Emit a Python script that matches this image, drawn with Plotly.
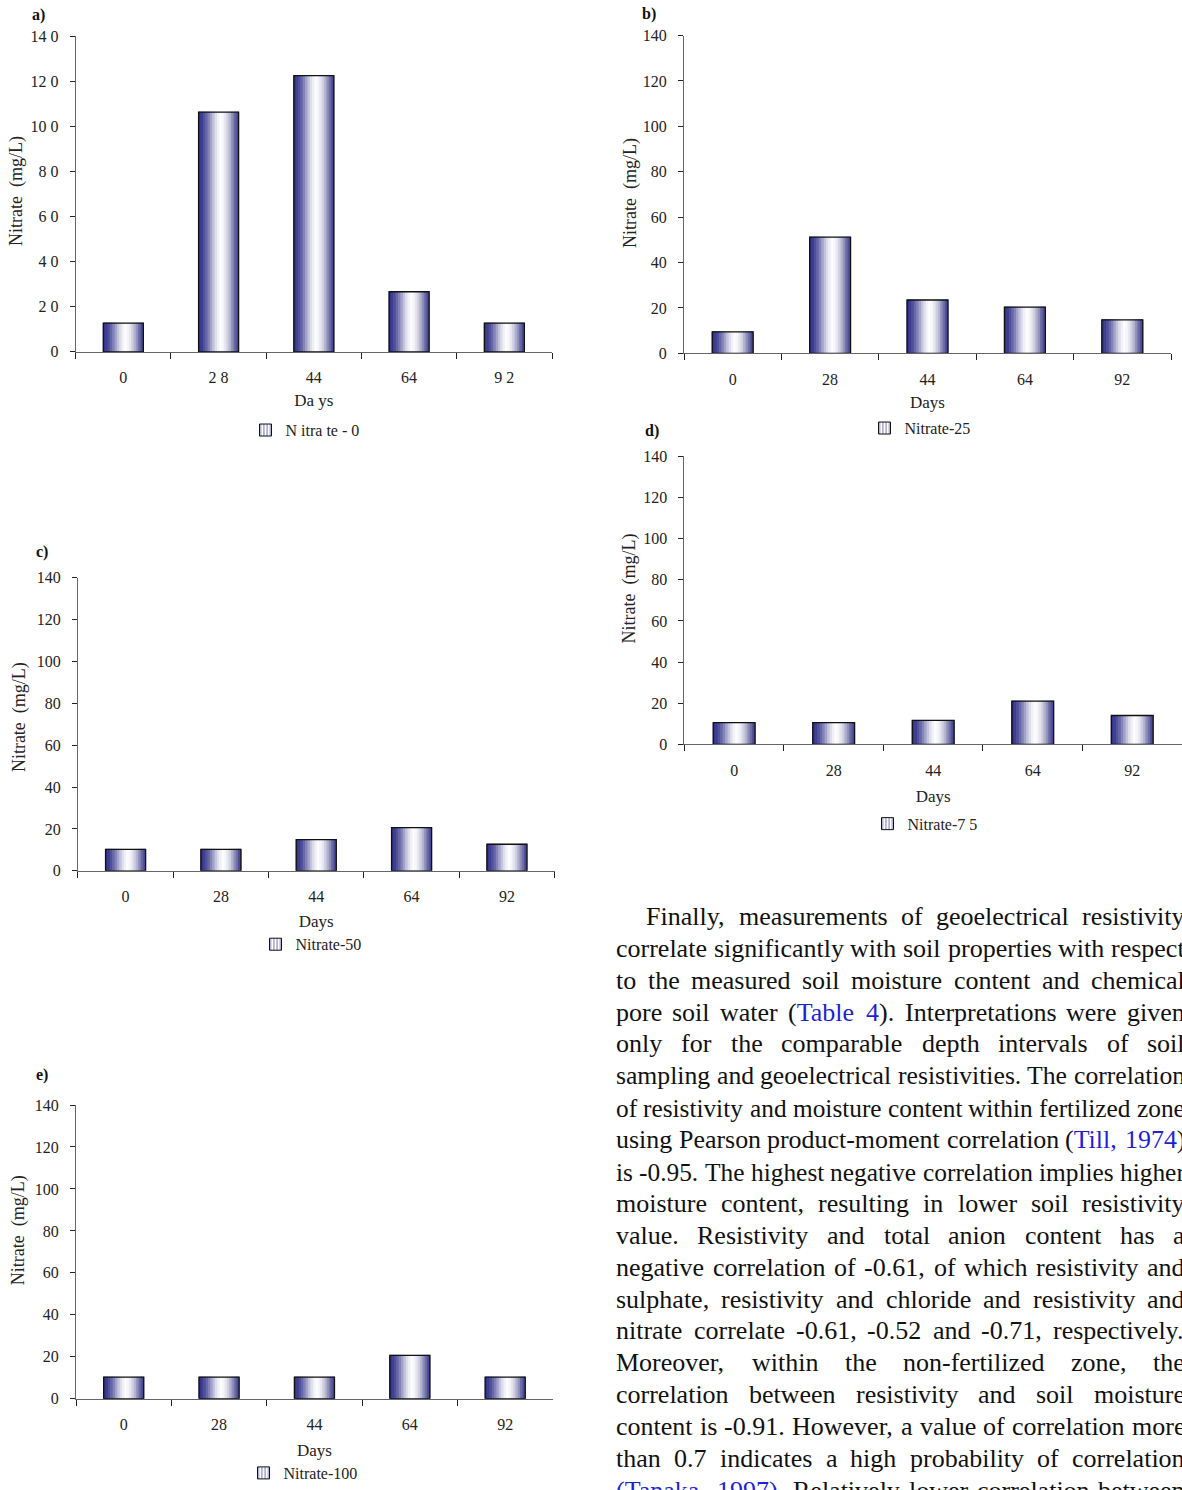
import plotly.graph_objects as go

W, H = 1182, 1490

# ---------------- data ----------------
days = ["0", "28", "44", "64", "92"]
nitrate_0 = [12.8, 106.4, 122.6, 26.7, 12.8]
nitrate_25 = [9.5, 51.2, 23.5, 20.4, 14.8]
nitrate_50 = [10.3, 10.3, 14.9, 20.6, 12.7]
nitrate_75 = [10.5, 10.5, 11.6, 21.0, 14.0]
nitrate_100 = [10.3, 10.3, 10.3, 20.7, 10.3]

y_tickvals = [0, 20, 40, 60, 80, 100, 120, 140]
y_ticktext_a = ["0", "2 0", "4 0", "6 0", "8 0", "10 0", "12 0", "14 0"]
y_ticktext = ["0", "20", "40", "60", "80", "100", "120", "140"]
x_ticktext_a = ["0", "2 8", "44", "64", "9 2"]
series_names = ["N itra te - 0", "Nitrate-25", "Nitrate-50", "Nitrate-7 5", "Nitrate-100"]
panel_labels = ["a)", "b)", "c)", "d)", "e)"]
x_titles = ["Da ys", "Days", "Days", "Days", "Days"]
y_title = "Nitrate  (mg/L)"

para_lines = [
    "Finally, measurements of geoelectrical resistivity",
    "correlate significantly with soil properties with respect",
    "to the measured soil moisture content and chemical",
    "pore soil water ([Table 4]). Interpretations were given",
    "only for the comparable depth intervals of soil",
    "sampling and geoelectrical resistivities. The correlation",
    "of resistivity and moisture content within fertilized zone",
    "using Pearson product-moment correlation ([Till, 1974])",
    "is -0.95. The highest negative correlation implies higher",
    "moisture content, resulting in lower soil resistivity",
    "value. Resistivity and total anion content has a",
    "negative correlation of -0.61, of which resistivity and",
    "sulphate, resistivity and chloride and resistivity and",
    "nitrate correlate -0.61, -0.52 and -0.71, respectively.",
    "Moreover, within the non-fertilized zone, the",
    "correlation between resistivity and soil moisture",
    "content is -0.91. However, a value of correlation more",
    "than 0.7 indicates a high probability of correlation",
    "[(Tanaka, 1997)]. Relatively lower correlation between",
]

# ---------------- styles ----------------
FONT = "Liberation Serif"
grad = ["#33338a", "#3d3d91", "#4f4f9b", "#6767a8", "#8383b7", "#a3a3ca",
        "#c3c3dc", "#dedeec", "#f1f1f7", "#fdfdfe", "#f6f6fa", "#e6e6f0",
        "#cfcfe1", "#b2b2cf", "#8f8fba", "#6a6aa6", "#4a4a97"]
BW = 0.42


def PY(y):
    """page pixel row -> paper fraction (compensates the observed vertical fit)"""
    return 1 - ((y - 7.4) / 0.986) / H


panels = [
    dict(vals=nitrate_0, px=(75.7, 552.0), py=(36.0, 352.5), yt=y_ticktext_a, xt=x_ticktext_a,
         leg=(305, 431), lab=(30, 14), ttl=(17, 191), xso=9),
    dict(vals=nitrate_25, px=(684.0, 1171.0), py=(35.0, 354.0), yt=y_ticktext, xt=days,
         leg=(920, 429), lab=(640, 13), ttl=(631, 193), xso=9),
    dict(vals=nitrate_50, px=(77.9, 554.6), py=(579.0, 873.3), yt=y_ticktext, xt=days,
         leg=(311, 947), lab=(34, 553), ttl=(19, 719), xso=11),
    dict(vals=nitrate_75, px=(684.4, 1182.0), py=(457.3, 746.3), yt=y_ticktext, xt=days,
         leg=(925, 826), lab=(643, 432), ttl=(630, 590), xso=12),
    dict(vals=nitrate_100, px=(76.0, 552.9), py=(1108.3, 1403.0), yt=y_ticktext, xt=days,
         leg=(303, 1478), lab=(34, 1078), ttl=(18, 1234), xso=12),
]

fig = go.Figure()
layout = dict(
    width=W, height=H, margin=dict(l=0, r=0, t=0, b=0),
    paper_bgcolor="white", plot_bgcolor="white",
    barmode="overlay", font=dict(family=FONT, color="#222"),
)
annotations = []

n = len(grad)
for k, p in enumerate(panels):
    sfx = "" if k == 0 else str(k + 1)
    xa, ya = "x" + sfx, "y" + sfx
    leg_id = "legend" + sfx
    for i, c in enumerate(grad):
        fig.add_trace(go.Bar(
            x=days, y=p["vals"], width=BW / n, offset=-BW / 2 + i * BW / n,
            marker=dict(color=c, line=dict(color=c, width=0.8)),
            showlegend=False, hoverinfo="skip", xaxis=xa, yaxis=ya))
    fig.add_trace(go.Bar(
        x=days, y=p["vals"], width=BW, offset=-BW / 2,
        marker=dict(color="rgba(0,0,0,0)", line=dict(color="#111", width=1.3)),
        showlegend=False, hoverinfo="skip", xaxis=xa, yaxis=ya))
    fig.add_trace(go.Bar(
        x=[None], y=[None], name=series_names[k], legend=leg_id,
        marker=dict(color="white", line=dict(color="#111", width=1),
                    pattern=dict(shape="|", fgcolor="#3a3a8e", bgcolor="white",
                                 size=4, solidity=0.4)),
        xaxis=xa, yaxis=ya, showlegend=True))

    layout["xaxis" + sfx] = dict(
        domain=[p["px"][0] / W, p["px"][1] / W], anchor=ya,
        type="category", categoryorder="array", categoryarray=days,
        range=[-0.5, 4.5], tickvals=days, ticktext=p["xt"],
        tickson="boundaries", ticks="outside", ticklen=6, tickcolor="#222",
        showline=True, linecolor="#666", linewidth=1, showgrid=False, zeroline=False,
        tickfont=dict(family=FONT, size=16, color="#222"), ticklabelstandoff=11,
        title=dict(text=x_titles[k], font=dict(family=FONT, size=17, color="#222"),
                   standoff=p["xso"]),
        fixedrange=True)
    layout["yaxis" + sfx] = dict(
        domain=[PY(p["py"][1]), PY(p["py"][0])], anchor=xa,
        range=[0, 140], tickvals=y_tickvals, ticktext=p["yt"],
        ticks="outside", ticklen=5, tickcolor="#222",
        showline=True, linecolor="#666", linewidth=1, showgrid=False, zeroline=False,
        tickfont=dict(family=FONT, size=16, color="#222"), ticklabelstandoff=8,
        fixedrange=True)
    layout[leg_id] = dict(
        x=p["leg"][0] / W, y=PY(p["leg"][1]), xanchor="center", yanchor="middle",
        orientation="h", bgcolor="rgba(0,0,0,0)", itemwidth=30,
        font=dict(family=FONT, size=16, color="#222"))
    annotations.append(dict(
        text="<b>%s</b>" % panel_labels[k], xref="paper", yref="paper",
        x=p["lab"][0] / W, y=PY(p["lab"][1]), xanchor="left", yanchor="middle",
        showarrow=False, font=dict(family=FONT, size=16, color="#111")))
    annotations.append(dict(
        text=y_title, xref="paper", yref="paper", textangle=-90,
        x=p["ttl"][0] / W, y=PY(p["ttl"][1]), xanchor="center", yanchor="middle",
        showarrow=False, font=dict(family=FONT, size=18, color="#222")))

# ---------------- justified paragraph ----------------
TW = {' ': 250, '!': 333, '(': 333, ')': 333, ',': 250, '-': 333, '.': 250, '/': 278,
      ':': 278, ';': 278, '?': 444,
      'A': 722, 'B': 667, 'C': 667, 'D': 722, 'E': 611, 'F': 556, 'G': 722, 'H': 722,
      'I': 333, 'J': 389, 'K': 722, 'L': 611, 'M': 889, 'N': 722, 'O': 722, 'P': 556,
      'Q': 722, 'R': 667, 'S': 556, 'T': 611, 'U': 722, 'V': 722, 'W': 944, 'X': 722,
      'Y': 722, 'Z': 611,
      'a': 444, 'b': 500, 'c': 444, 'd': 500, 'e': 444, 'f': 333, 'g': 500, 'h': 500,
      'i': 278, 'j': 278, 'k': 500, 'l': 278, 'm': 778, 'n': 500, 'o': 500, 'p': 500,
      'q': 500, 'r': 333, 's': 389, 't': 278, 'u': 500, 'v': 500, 'w': 722, 'x': 500,
      'y': 500, 'z': 444}


def text_w(s, size):
    return sum(TW.get(ch, 500) for ch in s) * size / 1000.0


BLUE = "#1f1fd6"
L, R = 616.0, 1185.0
BASE = 26.0
blue = False
for li, line in enumerate(para_lines):
    yc = 919 + 32 * li
    start = 646.0 if li == 0 else L
    words = line.split(" ")
    plain = [w.replace("[", "").replace("]", "") for w in words]
    widths = [text_w(w, BASE) for w in plain]
    avail = R - start
    natural = sum(widths) + text_w(" ", BASE) * (len(words) - 1)
    if natural > avail:
        size = BASE * avail / natural
        widths = [w * size / BASE for w in widths]
        gap = text_w(" ", size)
    else:
        size = BASE
        gap = (avail - sum(widths)) / (len(words) - 1)
    xpos = start
    for w, ww in zip(words, widths):
        html = ""
        for ch in w:
            if ch == "[":
                blue = True
                html += "<span style='color:%s'>" % BLUE
            elif ch == "]":
                blue = False
                html += "</span>"
            else:
                html += ch
        if blue and not w.endswith("]") and "[" not in w:
            html = "<span style='color:%s'>" % BLUE + html + "</span>"
        elif blue and "[" in w:
            html += "</span>"
        elif (not blue) and "]" in w and "[" not in w:
            html = "<span style='color:%s'>" % BLUE + html
        annotations.append(dict(
            text=html, xref="paper", yref="paper", x=(xpos - 2) / W, y=PY(yc),
            xanchor="left", yanchor="middle", showarrow=False,
            font=dict(family=FONT, size=size, color="#111")))
        xpos += ww + gap

layout["annotations"] = annotations
fig.update_layout(**layout)
fig.write_html("out.html")
